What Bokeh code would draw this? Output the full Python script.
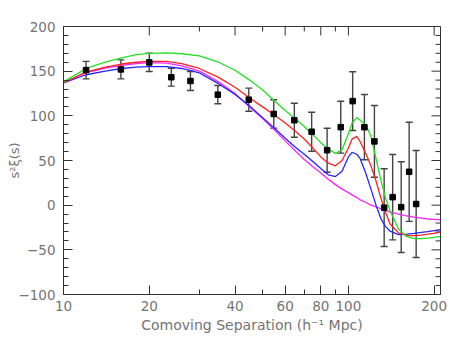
import math
from bokeh.plotting import figure
from bokeh.models import (ColumnDataSource, FixedTicker, Whisker, TeeHead,
                          PrintfTickFormatter, Range1d)
from bokeh.embed import file_html
from bokeh.resources import INLINE

# ---- data points (separation, s^2 xi, error) ----
sep = [12.0, 15.9, 20.0, 23.9, 27.9, 34.8, 44.7, 54.7, 64.6, 74.3,
       84.2, 94.0, 103.5, 113.8, 123.4, 133.5, 143.0, 153.2, 163.4, 172.9]
xi = [151.2, 152.0, 159.8, 143.2, 139.0, 123.7, 118.1, 102.1, 95.1, 82.2,
      61.5, 87.3, 116.5, 87.3, 71.4, -2.8, 9.0, -2.2, 37.4, 1.3]
err = [9.8, 10.6, 10.2, 10.0, 10.6, 10.2, 12.9, 15.9, 19.0, 21.8,
       24.6, 29.1, 32.9, 36.5, 40.1, 43.5, 47.8, 50.8, 55.5, 59.9]

# ---- model curves ----
grid = [10, 12, 14, 16, 18, 20, 23, 26, 30, 35, 40, 45, 50, 55, 60, 65, 70, 75,
        80, 85, 90, 95, 100, 103, 107, 110, 115, 120, 125, 130, 135, 140, 150,
        160, 170, 180, 190, 200, 210]
green = [138, 153, 160, 165, 168.5, 170, 170.5, 169.5, 167, 160, 151, 140, 129,
         117, 106, 97, 88, 79, 70, 63, 58, 62, 80, 92, 98, 95, 90, 77, 52, 28, 8,
         -6, -27, -35, -37.5, -37.5, -37, -36, -35]
red = [137, 149, 154.5, 158, 160, 161, 161, 158.5, 153, 143, 132, 120, 110, 101,
       92, 83, 74, 64, 54, 47, 44, 50, 64, 74, 77, 71, 58, 44, 27, 8, -8, -21,
       -31, -34, -34, -33.5, -32.5, -31.5, -30]
blue = [137, 146, 150, 153, 154.5, 155, 155, 153, 148, 136, 124, 111, 98, 86,
        75, 65, 57, 49, 41, 34, 32, 38, 54, 59, 57, 52, 36, 18, 0, -15, -24, -29,
        -33, -32.5, -31.5, -30.5, -29.5, -28.5, -27.5]
magenta = [137, 148.5, 153.5, 156.5, 158.5, 159.5, 159, 156, 150, 138, 125, 110,
           97, 84, 72, 61, 51, 43, 36, 29, 23, 18, 14, 11.5, 8.5, 6, 3, 0, -2, -4,
           -6, -7.5, -10, -12, -13.5, -14.5, -15.5, -16, -16.5]

x_major = [10, 20, 40, 60, 80, 100, 200]
x_minor = [30, 50, 70, 90]
y_major = [-100, -50, 0, 50, 100, 150, 200]
y_minor = [v for v in range(-100, 201, 10) if v % 50]
y_labels = {-100: "\u2212100", -50: "\u221250"}
x_min, x_max = 10, 210.5
y_min, y_max = -100, 200

TXT = "#747474"
AX = "#333333"
FONT = "DejaVu Sans"

p = figure(width=465, height=350, x_axis_type="log",
           x_range=Range1d(x_min, x_max), y_range=Range1d(y_min, y_max),
           output_backend="svg", toolbar_location=None,
           min_border_left=63, min_border_right=25, min_border_top=26,
           min_border_bottom=56)
p.grid.visible = False
p.outline_line_color = AX
p.background_fill_color = "white"
p.border_fill_color = "white"


def style(ax):
    ax.axis_line_color = AX
    ax.major_tick_line_color = AX
    ax.minor_tick_line_color = AX
    ax.major_tick_in = 9
    ax.major_tick_out = 0
    ax.minor_tick_in = 5
    ax.minor_tick_out = 0
    ax.major_label_text_color = TXT
    ax.major_label_text_font = FONT
    ax.major_label_text_font_size = "13.5px"
    ax.axis_label_text_color = TXT
    ax.axis_label_text_font = FONT
    ax.axis_label_text_font_size = "14px"
    ax.axis_label_text_font_style = "normal"


xa = p.xaxis[0]
xa.ticker = FixedTicker(ticks=x_major, minor_ticks=x_minor)
xa.formatter = PrintfTickFormatter(format="%d")
xa.axis_label = "Comoving Separation (h\u207b\u00b9 Mpc)"
style(xa)
xa.major_label_standoff = 6
xa.axis_label_standoff = 3

ya = p.yaxis[0]
ya.ticker = FixedTicker(ticks=y_major, minor_ticks=y_minor)
ya.major_label_overrides = y_labels
ya.axis_label = "s\u00b2\u03be(s)"
style(ya)
ya.axis_label_text_font_size = "13px"
ya.major_label_standoff = 8
ya.axis_label_standoff = -7

# mirrored inward ticks on the top and right edges of the frame
p.ray(x=x_major, y=[y_max] * len(x_major), length=9, angle=-math.pi / 2,
      length_units="screen", line_color=AX, line_width=1)
p.ray(x=x_minor, y=[y_max] * len(x_minor), length=5, angle=-math.pi / 2,
      length_units="screen", line_color=AX, line_width=1)
p.ray(x=[x_max] * len(y_major), y=y_major, length=9, angle=math.pi,
      length_units="screen", line_color=AX, line_width=1)
p.ray(x=[x_max] * len(y_minor), y=y_minor, length=5, angle=math.pi,
      length_units="screen", line_color=AX, line_width=1)

for ys, c in [(magenta, "#ff22ff"), (blue, "#2525ff"), (red, "#ff2222"), (green, "#22e022")]:
    p.line(grid, ys, line_color=c, line_width=1.3)

src = ColumnDataSource(dict(x=sep, y=xi,
                            lo=[a - b for a, b in zip(xi, err)],
                            hi=[a + b for a, b in zip(xi, err)]))
wh = Whisker(source=src, base="x", lower="lo", upper="hi",
             line_color="#444444", line_width=1.4,
             upper_head=TeeHead(size=7, line_color="#444444", line_width=1.4),
             lower_head=TeeHead(size=7, line_color="#444444", line_width=1.4))
p.add_layout(wh)
p.scatter("x", "y", source=src, marker="square", size=5.5, fill_color="black",
          line_color="black")

open("out.html", "w").write(file_html(p, INLINE))
